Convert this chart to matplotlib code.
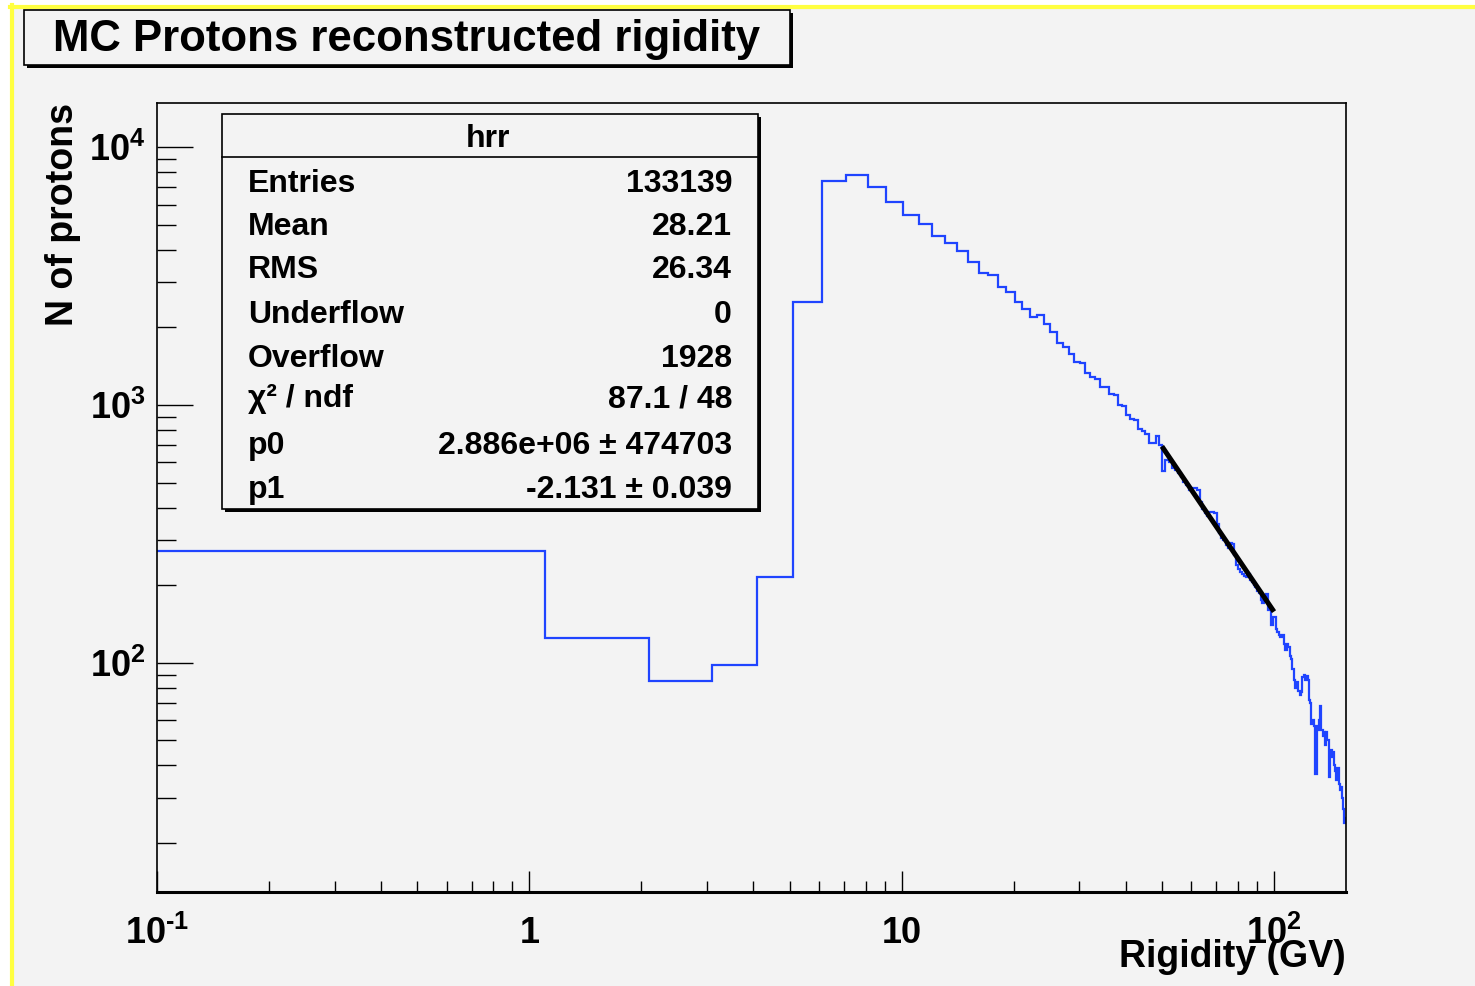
import numpy as np
import matplotlib
matplotlib.use("Agg")
import matplotlib.pyplot as plt
from matplotlib.patches import Rectangle
from matplotlib.lines import Line2D
from matplotlib.ticker import FixedLocator, FixedFormatter, LogLocator, FuncFormatter, NullFormatter

plt.rcParams['font.family'] = ['Liberation Sans', 'DejaVu Sans']
plt.rcParams['font.weight'] = 'bold'
plt.rcParams['mathtext.fontset'] = 'custom'
plt.rcParams['mathtext.rm'] = 'Liberation Sans:bold'
plt.rcParams['mathtext.bf'] = 'Liberation Sans:bold'
plt.rcParams['mathtext.it'] = 'Liberation Sans:bold'

# histogram: bins of 1 GV starting at 0.1
bin_lo = 0.1
bin_width = 1.0
counts = [
    271, 125, 85, 98, 215, 2517, 7400, 7810, 7040, 6150,
    5460, 5020, 4530, 4240, 3970, 3580, 3240, 3200, 2880, 2750,
    2520, 2360, 2200, 2240, 2060, 1925, 1735, 1685, 1575, 1475,
    1460, 1330, 1290, 1260, 1180, 1175, 1100, 1095, 1000, 995,
    915, 885, 875, 810, 790, 775, 710, 710, 758, 700,
    555, 610, 600, 570, 560, 545, 528, 505, 490, 470,
    478, 476, 470, 420, 395, 380, 372, 385, 384, 380,
    345, 318, 305, 300, 286, 280, 292, 290, 262, 240,
    232, 225, 222, 218, 215, 222, 210, 205, 200, 196,
    190, 186, 176, 170, 182, 185, 160, 165, 140, 150,
    150, 135, 132, 128, 126, 128, 118, 112, 118, 115,
    106, 103, 95, 86, 80, 84, 78, 75, 77, 88,
    90, 86, 89, 86, 72, 70, 58, 60, 57, 37,
    57, 55, 60, 68, 55, 52, 54, 48, 54, 50,
    36, 45, 46, 43, 45, 40, 38, 35, 39, 34,
    32, 33, 30, 27, 24, 25,
]

# power-law fit p0 * x^p1 over [50, 100]
p0 = 2.886e6
p1 = -2.131
fit_range = [50.0, 100.0]

stat_names = ["Entries", "Mean", "RMS", "Underflow", "Overflow",
              "\u03c7\u00b2 / ndf", "p0", "p1"]
stat_values = ["133139", "28.21", "26.34", "0", "1928",
               "87.1 / 48", "2.886e+06 \u00b1 474703", "-2.131 \u00b1 0.039"]

x_tick_vals = [0.1, 1, 10, 100]
x_tick_labels = [r"$10^{\text{-1}}$", "1", "10", r"$10^{2}$"]

W, H = 1475, 986
BG = '#f3f3f3'

def fx(px):
    return px / W

def fy(py):
    return 1 - py / H

fig = plt.figure(figsize=(W / 100, H / 100), dpi=100, facecolor='white')

# canvas background and yellow border (top and left)
fig.add_artist(Rectangle((fx(12), 0), 1 - fx(12), fy(7), transform=fig.transFigure,
                         facecolor=BG, edgecolor='none', zorder=-2))
fig.add_artist(Line2D([fx(10), 1], [fy(7), fy(7)], transform=fig.transFigure,
                      color='#ffff40', lw=3.0, zorder=-1))
fig.add_artist(Line2D([fx(12), fx(12)], [0, fy(5)], transform=fig.transFigure,
                      color='#ffff40', lw=3.0, zorder=-1))

ax = fig.add_axes([fx(157), fy(892), fx(1346) - fx(157), fy(103) - fy(892)])
ax.set_facecolor(BG)

edges = bin_lo + bin_width * np.arange(len(counts) + 1)
ax.stairs(counts, edges, baseline=None, color='#1f44ff', lw=1.6)

fx_pts = np.array(fit_range)
ax.plot(fx_pts, p0 * fx_pts ** p1, color='black', lw=3.6, solid_capstyle='butt')

ax.set_xscale('log')
ax.set_yscale('log')
ax.set_xlim(edges[0], edges[-1])
ax.set_ylim(12.9, 14860)

ax.xaxis.set_major_locator(FixedLocator(x_tick_vals))
ax.xaxis.set_major_formatter(FixedFormatter(x_tick_labels))
ax.xaxis.set_minor_locator(LogLocator(base=10, subs=np.arange(2, 10)))
ax.xaxis.set_minor_formatter(NullFormatter())

ax.yaxis.set_major_locator(LogLocator(base=10))
ax.yaxis.set_major_formatter(FuncFormatter(lambda v, p: r"$10^{%d}$" % round(np.log10(v))))
ax.yaxis.set_minor_locator(LogLocator(base=10, subs=np.arange(2, 10)))
ax.yaxis.set_minor_formatter(NullFormatter())

ax.tick_params(axis='x', which='major', direction='in', length=15, width=1.0, pad=17,
               labelsize=26, bottom=True, top=False)
ax.tick_params(axis='x', which='minor', direction='in', length=8, width=1.0, bottom=True, top=False)
ax.tick_params(axis='y', which='major', direction='in', length=26, width=1.0, pad=8,
               labelsize=26, left=True, right=False)
ax.tick_params(axis='y', which='minor', direction='in', length=14, width=1.0, left=True, right=False)

for s in ['left', 'top', 'right']:
    ax.spines[s].set_linewidth(1.2)
ax.spines['bottom'].set_linewidth(2.2)

ax.text(1.0, -(957 - 892) / 789, "Rigidity (GV)", transform=ax.transAxes,
        ha='right', va='center', fontsize=27, fontweight='bold')
ax.text((63 - 157) / 1189, 1.0, "N of protons", transform=ax.transAxes, rotation=90,
        ha='center', va='top', fontsize=27, fontweight='bold')

# title box
def shadow_box(l, t, r, b, z):
    fig.add_artist(Rectangle((fx(l + 3), fy(b + 3)), fx(r) - fx(l), fy(t) - fy(b),
                             transform=fig.transFigure, facecolor='black',
                             edgecolor='none', zorder=z))
    fig.add_artist(Rectangle((fx(l), fy(b)), fx(r) - fx(l), fy(t) - fy(b),
                             transform=fig.transFigure, facecolor=BG,
                             edgecolor='black', lw=1.2, zorder=z + 0.1))

shadow_box(24, 10, 790, 65, 5)
fig.text(fx(407), fy(39), "MC Protons reconstructed rigidity", ha='center', va='center',
         fontsize=31.5, fontweight='bold', zorder=6)

# stats box
shadow_box(222, 114, 758, 509, 5)
fig.add_artist(Line2D([fx(222), fx(758)], [fy(157), fy(157)], transform=fig.transFigure,
                      color='black', lw=1.2, zorder=6))
fig.text(fx(488), fy(139), "hrr", ha='center', va='center', fontsize=23,
         fontweight='bold', zorder=7)
row_y = [184, 227, 270, 315, 359, 399, 446, 490]
for name, val, yy in zip(stat_names, stat_values, row_y):
    fig.text(fx(248), fy(yy), name, ha='left', va='center', fontsize=23,
             fontweight='bold', zorder=7)
    fig.text(fx(732), fy(yy), val, ha='right', va='center', fontsize=23,
             fontweight='bold', zorder=7)

fig.savefig("out.png", dpi=100, facecolor=fig.get_facecolor())
